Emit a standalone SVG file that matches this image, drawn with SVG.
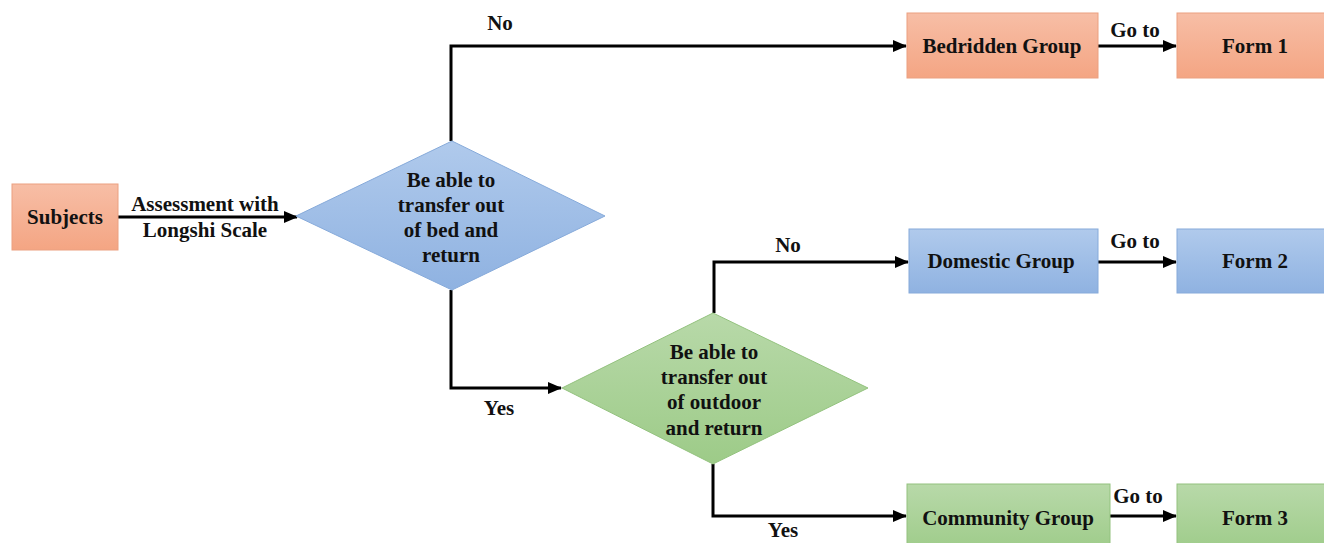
<svg xmlns="http://www.w3.org/2000/svg" width="1324" height="543" viewBox="0 0 1324 543">
<defs>
<linearGradient id="gO" x1="0" y1="0" x2="0" y2="1"><stop offset="0" stop-color="#F7BEA6"/><stop offset="1" stop-color="#F4A583"/></linearGradient>
<linearGradient id="gB" x1="0" y1="0" x2="0" y2="1"><stop offset="0" stop-color="#B0CAEC"/><stop offset="1" stop-color="#8FB2E1"/></linearGradient>
<linearGradient id="gG" x1="0" y1="0" x2="0" y2="1"><stop offset="0" stop-color="#B8D9A9"/><stop offset="1" stop-color="#9DCB88"/></linearGradient>
<marker id="arr" markerUnits="userSpaceOnUse" markerWidth="14" markerHeight="12" refX="13" refY="6" orient="auto"><path d="M0,0 L14,6 L0,12 z" fill="#000"/></marker>
<style>
text{font-family:"Liberation Serif","Times New Roman",serif;font-weight:bold;font-size:21px;fill:#111;text-anchor:middle}
.o{fill:url(#gO);stroke:#EBA080;stroke-width:1}
.b{fill:url(#gB);stroke:#86AADA;stroke-width:1}
.g{fill:url(#gG);stroke:#93C27E;stroke-width:1}
.c{fill:none;stroke:#000;stroke-width:3;marker-end:url(#arr)}
</style>
</defs>
<rect width="1324" height="543" fill="#fff"/>
<g id="connectors">
<path class="c" d="M118,217 H297"/>
<path class="c" d="M451,141 V46 H906"/>
<path class="c" d="M451,290 V388 H561"/>
<path class="c" d="M714,313 V262 H908"/>
<path class="c" d="M713,464 V516 H906"/>
<path class="c" d="M1098,46 H1176"/>
<path class="c" d="M1098,262 H1176"/>
<path class="c" d="M1110,516 H1176"/>
<text x="205" y="211">Assessment with</text>
<text x="205" y="237">Longshi Scale</text>
<text x="500" y="30">No</text>
<text x="499" y="415">Yes</text>
<text x="788" y="252">No</text>
<text x="783" y="537">Yes</text>
<text x="1135" y="37">Go to</text>
<text x="1135" y="248">Go to</text>
<text x="1138" y="503">Go to</text>
</g>
<g id="subjects"><rect class="o" x="12" y="184" width="106" height="66"/><text x="65" y="224">Subjects</text></g>
<g id="decision1"><polygon class="b" points="296,216 452,141 605,216 452,290"/>
<text x="451" y="187">Be able to</text><text x="451" y="212">transfer out</text><text x="451" y="237">of bed and</text><text x="451" y="262">return</text></g>
<g id="decision2"><polygon class="g" points="562,388 713,313 868,388 713,464"/>
<text x="714" y="359">Be able to</text><text x="714" y="384">transfer out</text><text x="714" y="409">of outdoor</text><text x="714" y="435">and return</text></g>
<g id="bedridden"><rect class="o" x="907" y="13" width="191" height="65"/><text x="1002" y="53">Bedridden Group</text></g>
<g id="form1"><rect class="o" x="1177" y="13" width="160" height="65"/><text x="1255" y="53">Form 1</text></g>
<g id="domestic"><rect class="b" x="909" y="229" width="189" height="64"/><text x="1001" y="268">Domestic Group</text></g>
<g id="form2"><rect class="b" x="1177" y="229" width="160" height="64"/><text x="1255" y="268">Form 2</text></g>
<g id="community"><rect class="g" x="907" y="484" width="203" height="70"/><text x="1008" y="525">Community Group</text></g>
<g id="form3"><rect class="g" x="1177" y="484" width="160" height="70"/><text x="1255" y="525">Form 3</text></g>
</svg>
